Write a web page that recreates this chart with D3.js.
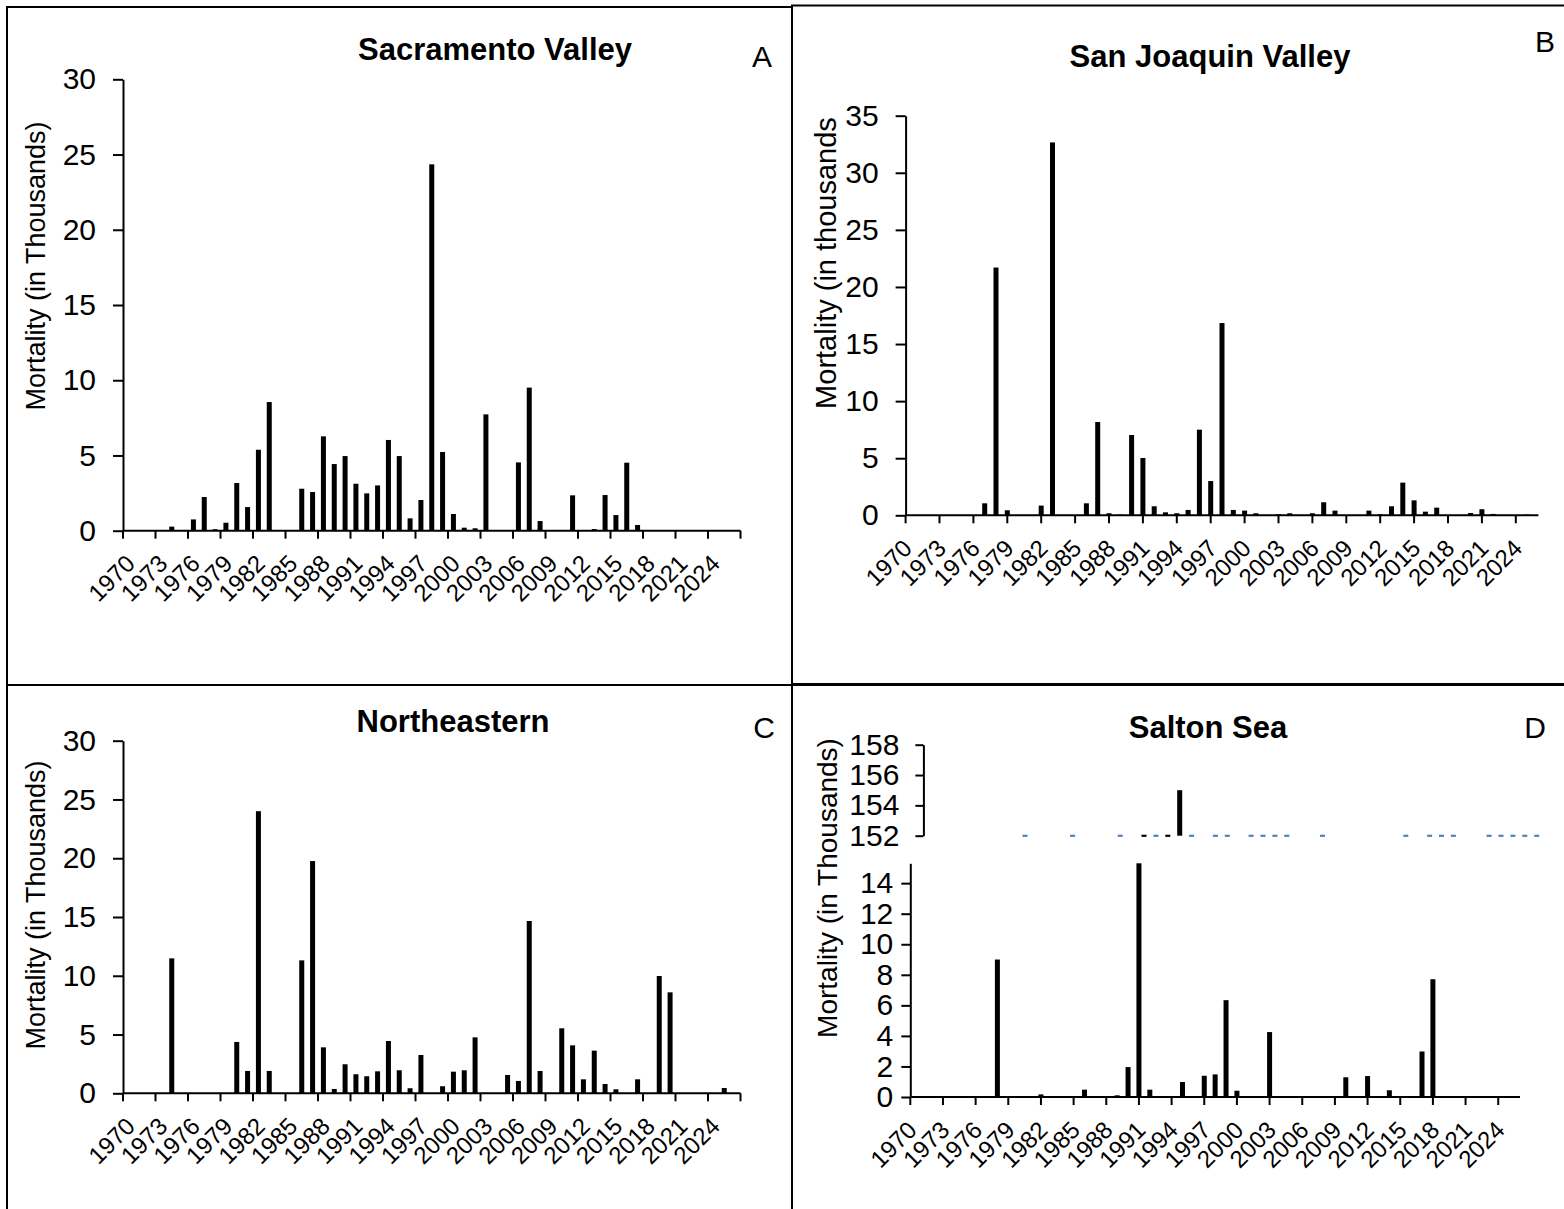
<!doctype html>
<html lang="en">
<head>
    <meta charset="utf-8" />
    <title>Mortality by region</title>
    <style>
        html, body { margin: 0; padding: 0; background: #fff; }
        svg { display: block; }
    </style>
</head>
<body>
    <svg id="chart"></svg>

    <script src="https://d3js.org/d3.v7.min.js"></script>

    <script>
        // one value per year, 1970 - 2026, mortality in thousands
        const years = d3.range(1970, 2027);
        const xTickYears = years.filter((d, i) => i % 3 === 0);

        const sacramento = [
            0, 0, 0, 0, 0.27, 0, 0.75, 2.24, 0.1, 0.53,
            3.17, 1.57, 5.38, 8.55, 0, 0, 2.79, 2.57, 6.27, 4.43,
            4.96, 3.12, 2.48, 3.01, 6.03, 4.96, 0.82, 2.04, 24.35, 5.23,
            1.11, 0.2, 0.16, 7.73, 0, 0, 4.54, 9.51, 0.64, 0,
            0, 2.35, 0, 0.11, 2.37, 1.04, 4.52, 0.38, 0, 0,
            0, 0, 0, 0, 0, 0, 0
        ];
        const sanJoaquin = [
            0, 0, 0, 0, 0, 0, 0, 1.05, 21.7, 0.44,
            0, 0, 0.85, 32.66, 0, 0, 1.05, 8.17, 0.18, 0.06,
            7.03, 5.02, 0.79, 0.26, 0.18, 0.47, 7.5, 3.0, 16.84, 0.47,
            0.41, 0.18, 0, 0.09, 0.18, 0, 0.18, 1.14, 0.41, 0,
            0, 0.41, 0.09, 0.79, 2.86, 1.31, 0.32, 0.67, 0, 0,
            0.2, 0.53, 0.12, 0, 0, 0.06, 0
        ];
        const northeastern = [
            0, 0, 0, 0, 11.48, 0, 0, 0, 0, 0,
            4.37, 1.9, 24.0, 1.9, 0, 0, 11.31, 19.76, 3.91, 0.37,
            2.47, 1.62, 1.45, 1.87, 4.45, 1.96, 0.43, 3.26, 0, 0.6,
            1.84, 1.96, 4.76, 0, 0, 1.56, 1.05, 14.66, 1.9, 0,
            5.53, 4.08, 1.19, 3.63, 0.79, 0.34, 0, 1.19, 0, 9.98,
            8.59, 0, 0, 0, 0, 0.45, 0
        ];
        const saltonSea = [
            0, 0, 0, 0, 0, 0, 0, 0, 9.0, 0,
            0, 0, 0.17, 0, 0, 0, 0.48, 0, 0, 0.11,
            1.96, 155, 0.48, 0, 0, 0.98, 0, 1.39, 1.48, 6.34,
            0.41, 0, 0, 4.25, 0, 0, 0, 0, 0, 0,
            1.29, 0, 1.37, 0, 0.44, 0, 0, 2.98, 7.71, 0,
            0, 0, 0, 0, 0, 0, 0
        ];

        // broken-axis leftovers in the Salton Sea panel (stubs on the upper chart's base line)
        const saltonStubBlue = [1978, 1982, 1986, 1989, 1992, 1994, 1995, 1997, 1998, 1999, 2000,
                                2003, 2010, 2012, 2013, 2014, 2017, 2018, 2019, 2020, 2021];
        const saltonStubDark = [1988, 1990];

        const yTicks30 = d3.range(0, 31, 5);
        const yTicks35 = d3.range(0, 36, 5);
        const yTicksSaltonLow = d3.range(0, 15, 2);
        const yTicksSaltonHigh = [152, 154, 156, 158];

        const W = 1564, H = 1209;
        const font = '"Liberation Sans", Arial, Helvetica, sans-serif';
        const barW = 5;

        const svg = d3.select('#chart')
            .attr('width', W)
            .attr('height', H)
            .attr('viewBox', [0, 0, W, H])
            .style('font-family', font);

        const panels = [
            { values: sacramento, title: 'Sacramento Valley', letter: 'A', yLabel: 'Mortality (in Thousands)',
              box: [7, 7, 785, 678], left: 123, right: 740.5, top: 79.3, bottom: 530.7,
              yMax: 30, yTicks: yTicks30, between: true, tickSize: 10, tickPad: 17,
              titleXY: [495, 60], letterXY: [762, 67], yLabelXY: [45, 266], yLabelSize: 27 },
            { values: sanJoaquin, title: 'San Joaquin Valley', letter: 'B', yLabel: 'Mortality (in thousands',
              box: [792, 5.5, 800, 679.5], left: 905.6, right: 1538.4, top: 115.7, bottom: 515.3,
              yMax: 35, yTicks: yTicks35, between: false, tickSize: 10, tickPad: 17,
              titleXY: [1210, 67], letterXY: [1545, 52], yLabelXY: [836, 263], yLabelSize: 29 },
            { values: northeastern, title: 'Northeastern', letter: 'C', yLabel: 'Mortality (in Thousands)',
              box: [7, 685, 785, 600], left: 123, right: 740.5, top: 740.7, bottom: 1093.3,
              yMax: 30, yTicks: yTicks30, between: true, tickSize: 10, tickPad: 17,
              titleXY: [453, 732], letterXY: [764, 738], yLabelXY: [45, 905], yLabelSize: 27 },
            { values: saltonSea, title: 'Salton Sea', letter: 'D', yLabel: 'Mortality (in Thousands)',
              box: [792, 684, 800, 600], left: 910.3, right: 1520, top: 863.3, bottom: 1097,
              yMax: 15.3, yTicks: yTicksSaltonLow, between: false, tickSize: 9, tickPad: 8,
              titleXY: [1208, 738], letterXY: [1535, 738], yLabelXY: [837, 888], yLabelSize: 28 }
        ];

        panels.forEach(drawPanel);
        drawSaltonTop();

        function drawPanel(p) {
            const g = svg.append('g');

            g.append('rect')
                .attr('x', p.box[0]).attr('y', p.box[1])
                .attr('width', p.box[2]).attr('height', p.box[3])
                .attr('fill', 'none')
                .attr('stroke', '#000')
                .attr('stroke-width', 2);

            const x = p.between
                ? d3.scaleBand().domain(years).range([p.left, p.right])
                : d3.scalePoint().domain(years).range([p.left, p.right]);
            const cx = d => p.between ? x(d) + x.bandwidth() / 2 : x(d);
            const y = d3.scaleLinear().domain([0, p.yMax]).range([p.bottom, p.top]);
            const clip = v => Math.min(v, p.yMax);

            // bars
            g.append('g')
                .selectAll('rect')
                .data(years.map((yr, i) => ({ year: yr, value: p.values[i] })).filter(d => d.value > 0))
                .join('rect')
                .attr('x', d => cx(d.year) - barW / 2)
                .attr('width', barW)
                .attr('y', d => y(clip(d.value)))
                .attr('height', d => y(0) - y(clip(d.value)))
                .attr('fill', '#000');

            // y axis
            const yAxis = g.append('g')
                .attr('transform', `translate(${p.left},0)`)
                .call(d3.axisLeft(y).tickValues(p.yTicks).tickSize(p.tickSize).tickSizeOuter(0).tickPadding(p.tickPad));
            yAxis.selectAll('path, line').attr('stroke', '#000').attr('stroke-width', 2);
            yAxis.selectAll('text')
                .attr('font-size', 30)
                .attr('font-family', font)
                .attr('fill', '#000');

            // x axis: line, tick marks every third year, rotated labels
            g.append('line')
                .attr('x1', p.left).attr('x2', p.right)
                .attr('y1', p.bottom).attr('y2', p.bottom)
                .attr('stroke', '#000')
                .attr('stroke-width', 2);

            const tickXs = p.between
                ? xTickYears.map(d => x(d)).concat([p.right])
                : xTickYears.map(d => x(d));
            g.append('g')
                .selectAll('line')
                .data(tickXs)
                .join('line')
                .attr('x1', d => d).attr('x2', d => d)
                .attr('y1', p.bottom).attr('y2', p.bottom + 8)
                .attr('stroke', '#000')
                .attr('stroke-width', 2);

            g.append('g')
                .selectAll('text')
                .data(xTickYears)
                .join('text')
                .attr('transform', d => `translate(${cx(d) + 2},${p.bottom + 28.5}) rotate(-45)`)
                .attr('text-anchor', 'end')
                .attr('dy', '0.35em')
                .attr('font-size', 24)
                .attr('fill', '#000')
                .text(d => d);

            // titles
            g.append('text')
                .attr('x', p.titleXY[0]).attr('y', p.titleXY[1])
                .attr('text-anchor', 'middle')
                .attr('font-size', 31)
                .attr('font-weight', 'bold')
                .text(p.title);

            g.append('text')
                .attr('x', p.letterXY[0]).attr('y', p.letterXY[1])
                .attr('text-anchor', 'middle')
                .attr('font-size', 30)
                .text(p.letter);

            g.append('text')
                .attr('transform', `translate(${p.yLabelXY[0]},${p.yLabelXY[1]}) rotate(-90)`)
                .attr('text-anchor', 'middle')
                .attr('font-size', p.yLabelSize)
                .text(p.yLabel);
        }

        // upper half of the broken Salton Sea axis
        function drawSaltonTop() {
            const g = svg.append('g');
            const x = d3.scaleBand().domain(years).range([923.85, 1602.15]);
            const cx = d => x(d) + x.bandwidth() / 2;
            const y = d3.scaleLinear().domain([152, 158]).range([835.7, 744.7]);

            g.append('g')
                .selectAll('rect')
                .data(years.map((yr, i) => ({ year: yr, value: saltonSea[i] })).filter(d => d.value > 152))
                .join('rect')
                .attr('x', d => cx(d.year) - barW / 2)
                .attr('width', barW)
                .attr('y', d => y(d.value))
                .attr('height', d => y(152) - y(d.value))
                .attr('fill', '#000');

            g.append('g')
                .selectAll('rect')
                .data(saltonStubBlue.map(d => ({ year: d, color: '#4f81bd' }))
                    .concat(saltonStubDark.map(d => ({ year: d, color: '#000' }))))
                .join('rect')
                .attr('x', d => cx(d.year) - barW / 2)
                .attr('width', barW)
                .attr('y', y(152) - 1)
                .attr('height', 2.2)
                .attr('fill', d => d.color);

            const yAxis = g.append('g')
                .attr('transform', 'translate(923.4,0)')
                .call(d3.axisLeft(y).tickValues(yTicksSaltonHigh).tickFormat(d3.format('d'))
                    .tickSize(8).tickSizeOuter(0).tickPadding(16));
            yAxis.selectAll('path, line').attr('stroke', '#000').attr('stroke-width', 2);
            yAxis.selectAll('text')
                .attr('font-size', 30)
                .attr('font-family', font)
                .attr('fill', '#000');
        }
    </script>
</body>
</html>
